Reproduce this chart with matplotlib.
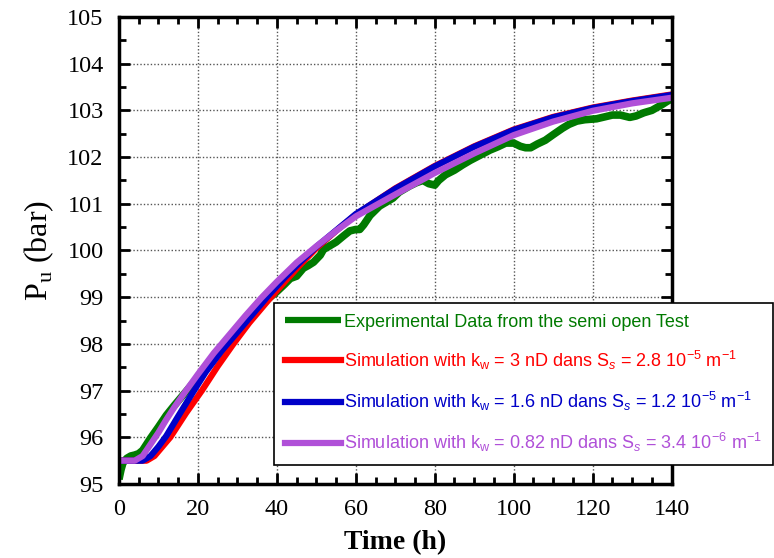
import numpy as np
import matplotlib
matplotlib.use('Agg')
import matplotlib.pyplot as plt
from matplotlib.ticker import MultipleLocator

plt.rcParams['mathtext.fontset'] = 'custom'
plt.rcParams['mathtext.rm'] = 'Liberation Serif'
plt.rcParams['mathtext.sf'] = 'Liberation Sans'
plt.rcParams['mathtext.it'] = 'Liberation Sans:italic'

t_exp = [0, 0.5, 1, 2, 3, 4, 5, 6, 7, 8, 9, 10, 12, 14, 16, 18, 20, 22, 24, 26, 28, 30, 33, 36, 38,
         40, 42, 43.4, 45, 46.7, 48, 49.3, 51, 51.8, 53, 55, 57, 58.5, 60, 61, 62, 63.6, 66, 68, 69.4,
         71, 73.6, 75.3, 77, 78.5, 80, 81, 82.7, 85, 87, 89, 91.5, 94, 96, 98, 100, 101.7, 103, 104.3,
         106, 108, 110, 112.4, 114, 116, 118, 121, 123, 125, 127, 129.4, 131, 133, 135, 137.5, 139, 140]
p_exp = [95.1, 95.3, 95.45, 95.55, 95.6, 95.62, 95.65, 95.72, 95.85, 95.98, 96.1, 96.22, 96.47, 96.68,
         96.88, 97.08, 97.28, 97.48, 97.68, 97.88, 98.05, 98.25, 98.55, 98.82, 98.98, 99.12, 99.28, 99.4,
         99.45, 99.62, 99.68, 99.75, 99.9, 100.02, 100.08, 100.18, 100.32, 100.42, 100.45, 100.45, 100.55,
         100.75, 100.95, 101.05, 101.12, 101.25, 101.38, 101.45, 101.5, 101.43, 101.4, 101.5, 101.62,
         101.72, 101.83, 101.93, 102.04, 102.15, 102.22, 102.3, 102.3, 102.23, 102.2, 102.2, 102.28,
         102.36, 102.48, 102.62, 102.7, 102.77, 102.8, 102.82, 102.86, 102.9, 102.9, 102.85, 102.88,
         102.95, 103.0, 103.12, 103.2, 103.25]

# simulation kw = 3 nD
t_red = [0, 7, 9, 11, 13, 17, 21, 25, 29, 33, 38, 42, 46, 50, 55, 60, 70, 80, 90, 100, 110, 120, 130, 140]
p_red = [95.5, 95.5, 95.6, 95.8, 96.0, 96.52, 97.0, 97.52, 98.0, 98.45, 98.95, 99.33, 99.7, 100.05,
         100.42, 100.77, 101.33, 101.81, 102.23, 102.59, 102.86, 103.06, 103.21, 103.34]

# simulation kw = 1.6 nD
t_blue = [0, 6, 8, 10, 12, 15, 19, 22, 26, 30, 34, 38, 42, 46, 50, 55, 60, 70, 80, 90, 100, 110, 120, 130, 140]
p_blue = [95.5, 95.5, 95.6, 95.8, 96.03, 96.45, 97.0, 97.4, 97.85, 98.25, 98.65, 99.05, 99.42, 99.76, 100.08,
          100.43, 100.78, 101.32, 101.8, 102.22, 102.58, 102.85, 103.05, 103.2, 103.33]

# simulation kw = 0.82 nD
t_purple = [0, 4, 6, 8, 10, 12, 14, 17, 20, 24, 28, 32, 36, 40, 45, 50, 55, 60, 70, 80, 90, 100, 110, 120, 130, 140]
p_purple = [95.5, 95.5, 95.6, 95.85, 96.1, 96.38, 96.64, 97.0, 97.35, 97.8, 98.2, 98.6, 98.98, 99.33, 99.74,
            100.09, 100.42, 100.73, 101.2, 101.66, 102.08, 102.47, 102.76, 102.99, 103.15, 103.27]

labels = ['Experimental Data from the semi open Test',
          r'Simulation with k$_{\mathsf{w}}$ = 3 nD dans S$_{s}$ = 2.8 10$^{\mathsf{-5}}$ m$^{\mathsf{-1}}$',
          r'Simulation with k$_{\mathsf{w}}$ = 1.6 nD dans S$_{s}$ = 1.2 10$^{\mathsf{-5}}$ m$^{\mathsf{-1}}$',
          r'Simulation with k$_{\mathsf{w}}$ = 0.82 nD dans S$_{s}$ = 3.4 10$^{\mathsf{-6}}$ m$^{\mathsf{-1}}$']
colors = ['#007a00', '#ff0000', '#0000c8', '#b050d8']

fig = plt.figure(figsize=(7.74, 5.58), dpi=100)
ax = fig.add_axes([0.1537, 0.1326, 0.714, 0.837])

ax.plot(t_exp, p_exp, color=colors[0], lw=5.5, label=labels[0], solid_capstyle='butt')
ax.plot(t_red, p_red, color=colors[1], lw=4.5, label=labels[1])
ax.plot(t_blue, p_blue, color=colors[2], lw=4.5, label=labels[2])
ax.plot(t_purple, p_purple, color=colors[3], lw=4.5, label=labels[3])

ax.set_xlim(0, 140)
ax.set_ylim(95, 105)
ax.xaxis.set_major_locator(MultipleLocator(20))
ax.xaxis.set_minor_locator(MultipleLocator(5))
ax.yaxis.set_major_locator(MultipleLocator(1))
ax.yaxis.set_minor_locator(MultipleLocator(0.5))
ax.tick_params(which='both', direction='in', top=True, right=True, width=2, color='black')
ax.tick_params(which='major', length=8, labelsize=17.5, pad=11)
ax.tick_params(which='minor', length=5)
for lab in ax.get_xticklabels() + ax.get_yticklabels():
    lab.set_family('Liberation Serif')
for s in ax.spines.values():
    s.set_linewidth(2.5)

ax.grid(True, which='major', linestyle=(0, (1, 1.5)), color='#555555', lw=1)
ax.set_axisbelow(True)

ax.set_xlabel('Time (h)', fontsize=20, fontweight='bold', family='Liberation Serif', labelpad=7)
ax.set_ylabel(r'P$_{\mathrm{u}}$ (bar)', fontsize=23, family='Liberation Serif', labelpad=8)

leg = ax.legend(loc='lower left', bbox_to_anchor=(0.354, 0.167), bbox_transform=fig.transFigure,
                prop={'family': 'Liberation Sans', 'size': 13}, frameon=True, fancybox=False,
                edgecolor='black', framealpha=1, handlelength=3.1, handletextpad=0.2,
                labelspacing=1.0, borderpad=0.6, borderaxespad=0)
leg.get_frame().set_linewidth(1.2)
for txt, c in zip(leg.get_texts(), colors):
    txt.set_color(c)
for h in leg.get_lines():
    h.set_linewidth(4.5)

fig.savefig('out.png', dpi=100)
